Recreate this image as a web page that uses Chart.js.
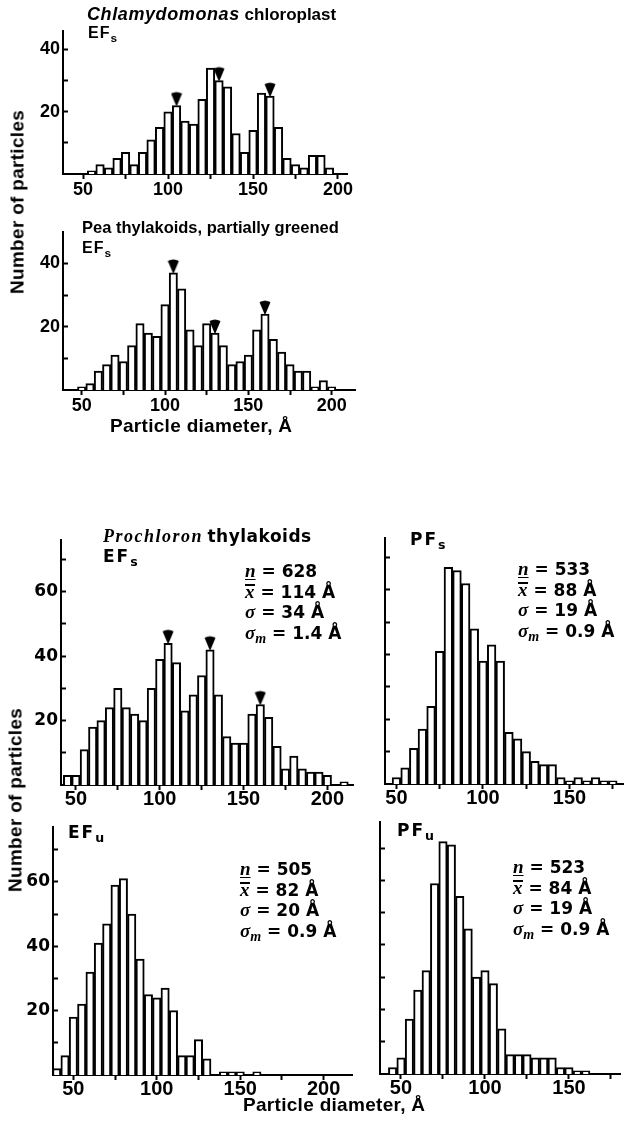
<!DOCTYPE html>
<html>
<head>
<meta charset="utf-8">
<title>Particle size distributions</title>
<script src="https://cdn.jsdelivr.net/npm/chart.js@4.4.1/dist/chart.umd.min.js"></script>
<style>
  html, body { margin: 0; padding: 0; background: #fff; }
  body { position: relative; width: 634px; height: 1121px; overflow: hidden; }
  canvas { position: absolute; z-index: 1; }
  .t { position: absolute; z-index: 2; white-space: nowrap; line-height: 1; color: #000;
       font-family: 'Liberation Sans', Arial, sans-serif; font-weight: bold; }
  .w { font-family: 'DejaVu Sans', sans-serif; font-weight: bold; }
  .serif { font-family: 'Liberation Serif', serif; font-style: italic; font-weight: bold; }
  .sub { font-size: 0.74em; position: relative; top: 0.3em; }
  .stats div { height: 20.6px; line-height: 20.6px; }
  .ul { text-decoration: underline; text-underline-offset: 2px; }
  .xbar { display: inline-block; line-height: 12px; border-top: 2px solid #000; }
  .vert { transform: translate(-50%, -50%) rotate(-90deg); }
</style>
</head>
<body>

<!-- upper figure: Chlamydomonas / pea -->
<div class="t" style="left:87px; top:5px; font-size:17px"><span style="font-style:italic; font-size:18px; letter-spacing:0.6px">Chlamydomonas</span> chloroplast</div>
<div class="t" style="left:88px; top:25px; font-size:16px; letter-spacing:1px">EF<span class="sub">s</span></div>
<div class="t" style="left:82px; top:219px; font-size:16.5px">Pea thylakoids, partially greened</div>
<div class="t" style="left:82px; top:240px; font-size:16px; letter-spacing:1px">EF<span class="sub">s</span></div>
<div class="t" style="left:110px; top:416px; font-size:19px; letter-spacing:0.3px">Particle diameter, Å</div>
<div class="t vert" style="left:17px; top:202px; font-size:19px; letter-spacing:0.3px">Number of particles</div>

<!-- lower figure: Prochloron -->
<div class="t" style="left:103px; top:527px">
  <span class="serif" style="font-size:18px; letter-spacing:1.5px">Prochloron</span>
  <span class="w" style="font-size:17px; letter-spacing:0.5px">thylakoids</span>
</div>
<div class="t w" style="left:103px; top:548px; font-size:17px; letter-spacing:2px">EF<span class="sub">s</span></div>
<div class="t w" style="left:410px; top:531px; font-size:17px; letter-spacing:2px">PF<span class="sub">s</span></div>
<div class="t w" style="left:68px; top:824px; font-size:17px; letter-spacing:2px">EF<span class="sub">u</span></div>
<div class="t w" style="left:397px; top:822px; font-size:17px; letter-spacing:2px">PF<span class="sub">u</span></div>

<div class="t w stats" style="left:245px; top:561px; font-size:17px">
  <div><span class="serif ul" style="font-size:19px">n</span> = 628</div>
  <div><span class="serif xbar" style="font-size:19px">x</span> = 114 Å</div>
  <div><span class="serif" style="font-size:19px">σ</span> = 34 Å</div>
  <div><span class="serif" style="font-size:19px">σ<span class="sub">m</span></span> = 1.4 Å</div>
</div>
<div class="t w stats" style="left:518px; top:559px; font-size:17px">
  <div><span class="serif ul" style="font-size:19px">n</span> = 533</div>
  <div><span class="serif xbar" style="font-size:19px">x</span> = 88 Å</div>
  <div><span class="serif" style="font-size:19px">σ</span> = 19 Å</div>
  <div><span class="serif" style="font-size:19px">σ<span class="sub">m</span></span> = 0.9 Å</div>
</div>
<div class="t w stats" style="left:240px; top:859px; font-size:17px">
  <div><span class="serif ul" style="font-size:19px">n</span> = 505</div>
  <div><span class="serif xbar" style="font-size:19px">x</span> = 82 Å</div>
  <div><span class="serif" style="font-size:19px">σ</span> = 20 Å</div>
  <div><span class="serif" style="font-size:19px">σ<span class="sub">m</span></span> = 0.9 Å</div>
</div>
<div class="t w stats" style="left:513px; top:857px; font-size:17px">
  <div><span class="serif ul" style="font-size:19px">n</span> = 523</div>
  <div><span class="serif xbar" style="font-size:19px">x</span> = 84 Å</div>
  <div><span class="serif" style="font-size:19px">σ</span> = 19 Å</div>
  <div><span class="serif" style="font-size:19px">σ<span class="sub">m</span></span> = 0.9 Å</div>
</div>

<div class="t" style="left:243px; top:1095px; font-size:19px; letter-spacing:0.3px">Particle diameter, Å</div>
<div class="t vert" style="left:15px; top:800px; font-size:19px; letter-spacing:0.3px">Number of particles</div>

<script>
'use strict';

/* bin centres (Å) and particle counts */
var chlamyBins   = [55, 60, 65, 70, 75, 80, 85, 90, 95, 100, 105, 110, 115, 120, 125, 130, 135, 140, 145, 150, 155, 160, 165, 170, 175, 180, 185, 190, 195];
var chlamyCounts = [1, 3, 2, 5, 7, 3, 7, 11, 15, 20, 22, 17, 16, 24, 34, 30, 28, 13, 7, 14, 26, 25, 15, 5, 3, 2, 6, 6, 2];
var chlamyPeaks  = [105, 130, 160];

var peaBins   = [50, 55, 60, 65, 70, 75, 80, 85, 90, 95, 100, 105, 110, 115, 120, 125, 130, 135, 140, 145, 150, 155, 160, 165, 170, 175, 180, 185, 190, 195, 200];
var peaCounts = [1, 2, 6, 8, 11, 9, 14, 21, 18, 17, 27, 37, 32, 19, 14, 21, 18, 14, 8, 9, 11, 19, 24, 16, 12, 8, 6, 6, 1, 3, 1];
var peaPeaks  = [105, 130, 160];

var efsBins   = [45, 50, 55, 60, 65, 70, 75, 80, 85, 90, 95, 100, 105, 110, 115, 120, 125, 130, 135, 140, 145, 150, 155, 160, 165, 170, 175, 180, 185, 190, 195, 200, 205, 210];
var efsCounts = [3, 3, 11, 18, 20, 24, 30, 24, 22, 20, 30, 39, 44, 38, 23, 28, 34, 42, 28, 15, 13, 13, 22, 25, 21, 12, 5, 9, 5, 4, 4, 3, 0, 1];
var efsPeaks  = [105, 130, 160];

var pfsBins   = [50, 55, 60, 65, 70, 75, 80, 85, 90, 95, 100, 105, 110, 115, 120, 125, 130, 135, 140, 145, 150, 155, 160, 165, 170, 175];
var pfsCounts = [2, 5, 11, 17, 24, 41, 67, 66, 62, 48, 38, 43, 38, 16, 14, 10, 7, 6, 6, 2, 1, 2, 1, 2, 1, 1];

var efuBins   = [40, 45, 50, 55, 60, 65, 70, 75, 80, 85, 90, 95, 100, 105, 110, 115, 120, 125, 130, 135, 140, 145, 150, 155, 160];
var efuCounts = [2, 6, 18, 22, 32, 41, 47, 59, 61, 50, 36, 25, 24, 27, 20, 6, 6, 11, 5, 0, 1, 1, 1, 0, 1];

var pfuBins   = [45, 50, 55, 60, 65, 70, 75, 80, 85, 90, 95, 100, 105, 110, 115, 120, 125, 130, 135, 140, 145, 150, 155, 160];
var pfuCounts = [2, 5, 17, 26, 32, 59, 72, 71, 55, 45, 30, 32, 28, 14, 6, 6, 6, 5, 5, 5, 2, 2, 1, 1];

/* axis ticks */
var xTicks       = [50, 75, 100, 125, 150, 175, 200];
var xTickLabels  = [50, 100, 150, 200];
var yTicks       = [10, 20, 30, 40, 50, 60, 70];
var yLabelsUpper = [20, 40];
var yLabelsLower = [20, 40, 60];

/* where each histogram sits on the page: plot box [left, top, right, bottom] px */
var panels = [
    { bins: chlamyBins, counts: chlamyCounts, peaks: chlamyPeaks, box: [63, 20, 347, 174],   xr: [38.2, 205.3], yMax: 46, yLabels: yLabelsUpper, style: 'upper' },
    { bins: peaBins,    counts: peaCounts,    peaks: peaPeaks,    box: [63, 221, 355, 390],  xr: [38.8, 214],   yMax: 50, yLabels: yLabelsUpper, style: 'upper' },
    { bins: efsBins,    counts: efsCounts,    peaks: efsPeaks,    box: [61, 530, 353, 785],  xr: [41.1, 215.3], yMax: 76, yLabels: yLabelsLower, style: 'lower' },
    { bins: pfsBins,    counts: pfsCounts,    peaks: [],          box: [385, 528, 623, 784], xr: [43.4, 180.9], yMax: 76, yLabels: [],           style: 'lower' },
    { bins: efuBins,    counts: efuCounts,    peaks: [],          box: [53, 817, 352, 1075], xr: [37.8, 217],   yMax: 77, yLabels: yLabelsLower, style: 'lower' },
    { bins: pfuBins,    counts: pfuCounts,    peaks: [],          box: [380, 812, 620, 1074], xr: [37.5, 180.4], yMax: 78, yLabels: [],          style: 'lower' }
];

var FONTS = {
    upper: { x: { family: 'Liberation Sans', weight: 'bold', size: 18 },
             y: { family: 'Liberation Sans', weight: 'bold', size: 18 }, pad: 0 },
    lower: { x: { family: 'Liberation Sans', weight: 'bold', size: 20 },
             y: { family: 'DejaVu Sans',     weight: 'bold', size: 17 }, pad: -3 }
};

var AX_W = 46, AX_H = 30, PAD = 8;

/* filled arrowhead, tip at the image centre so it rests on the bar top */
function makeArrowhead() {
    var c = document.createElement('canvas');
    c.width = 12; c.height = 30;
    var g = c.getContext('2d');
    g.fillStyle = '#000';
    g.beginPath();
    g.moveTo(0.5, 3);
    g.quadraticCurveTo(6, 0, 11.5, 3);
    g.lineTo(6.5, 15);
    g.lineTo(5.5, 15);
    g.closePath();
    g.fill();
    return c;
}
var arrowhead = makeArrowhead();

Chart.defaults.color = '#000';
Chart.defaults.animation = false;

function drawPanel(p) {
    var w = p.box[2] - p.box[0] + AX_W + PAD;
    var h = p.box[3] - p.box[1] + PAD + AX_H;
    var cv = document.createElement('canvas');
    cv.width = w;
    cv.height = h;
    cv.style.left = (p.box[0] - AX_W) + 'px';
    cv.style.top  = (p.box[1] - PAD) + 'px';
    document.body.appendChild(cv);

    var bars = p.bins.map(function (b, i) {
        return { x: b, y: p.counts[i] || null };
    });
    var marks = p.peaks.map(function (b) {
        return { x: b, y: p.counts[p.bins.indexOf(b)] };
    });
    var f = FONTS[p.style];

    new Chart(cv, {
        type: 'bar',
        data: {
            datasets: [{
                type: 'bar',
                data: bars,
                backgroundColor: '#ffffff',
                borderColor: '#000000',
                borderWidth: 2,
                borderSkipped: 'bottom',
                barPercentage: 1,
                categoryPercentage: 1,
                order: 2
            }, {
                type: 'scatter',
                data: marks,
                pointStyle: arrowhead,
                pointRadius: 6,
                clip: false,
                order: 1
            }]
        },
        options: {
            responsive: false,
            layout: { padding: { left: 0, top: PAD, right: PAD, bottom: 0 } },
            plugins: { legend: { display: false }, tooltip: { enabled: false } },
            scales: {
                x: {
                    type: 'linear',
                    min: p.xr[0],
                    max: p.xr[1],
                    offset: false,
                    afterBuildTicks: function (s) {
                        s.ticks = xTicks.filter(function (v) { return v > s.min && v < s.max; })
                                        .map(function (v) { return { value: v }; });
                    },
                    afterFit: function (s) { s.height = AX_H; },
                    grid: { offset: false, drawOnChartArea: false, tickLength: 5, tickColor: '#000', tickWidth: 2 },
                    border: { color: '#000', width: 2 },
                    ticks: {
                        autoSkip: false, maxRotation: 0, padding: f.pad, font: f.x,
                        callback: function (v) { return xTickLabels.indexOf(v) >= 0 ? String(v) : ''; }
                    }
                },
                y: {
                    type: 'linear',
                    min: 0,
                    max: p.yMax,
                    afterBuildTicks: function (s) {
                        s.ticks = yTicks.filter(function (v) { return v < s.max; })
                                        .map(function (v) { return { value: v }; });
                    },
                    afterFit: function (s) { s.width = AX_W; },
                    grid: { drawOnChartArea: false, tickLength: -5, tickColor: '#000', tickWidth: 2 },
                    border: { color: '#000', width: 2 },
                    ticks: {
                        autoSkip: false, padding: 8, font: f.y,
                        callback: function (v) { return p.yLabels.indexOf(v) >= 0 ? String(v) : ''; }
                    }
                }
            }
        }
    });
}

panels.forEach(drawPanel);
</script>
</body>
</html>
